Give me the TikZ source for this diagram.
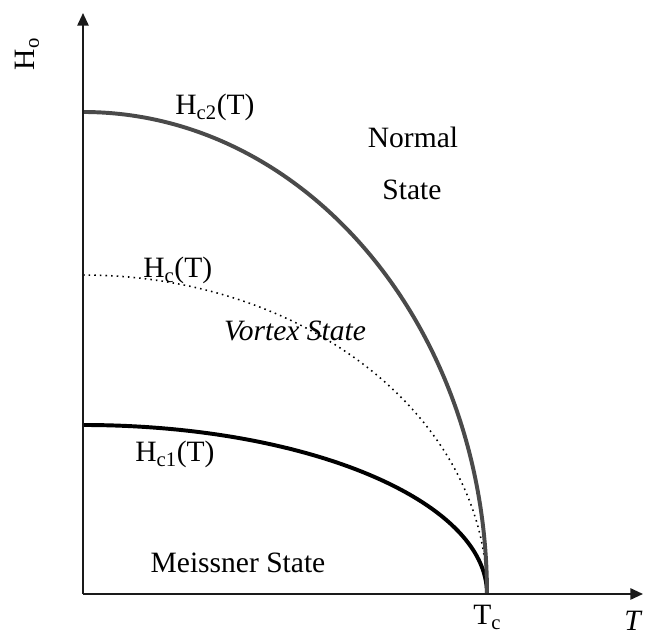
\documentclass[tikz,border=0pt]{standalone}
\usepackage{fontspec}
\setmainfont{Liberation Serif}
\usepackage{tikz}
\usetikzlibrary{arrows.meta,positioning}
\definecolor{hcTwoCol}{HTML}{4A4A4A}
\definecolor{axisCol}{HTML}{1A1A1A}
\tikzset{
  axis/.style={-{Triangle[length=9pt,width=8pt]}, line width=1.4pt, axisCol},
  hctwo/.style={line width=2.8pt, hcTwoCol},            % upper critical field
  hcone/.style={line width=2.8pt, black},               % lower critical field
  hcthermo/.style={line width=1.1pt, dash pattern=on 1.1pt off 2.9pt}, % thermodynamic field
  lbl/.style={font=\fontsize{21}{25}\selectfont, inner sep=0pt},
}
\newcommand{\Tc}{487}
\begin{document}
\begin{tikzpicture}[x=0.025cm,y=0.025cm]
  \useasboundingbox (0,0) rectangle (647,637);
  \coordinate (O) at (83,43);
  \coordinate (yTip) at (83,624);
  \coordinate (xTip) at (643,43);
  \coordinate (tc) at (\Tc,43);
  \coordinate (h2) at (83,525);
  \coordinate (h) at (83,362);
  \coordinate (h1) at (83,212);

  \draw[hcthermo] (h) arc[start angle=90, end angle=0, x radius=404, y radius=319];
  \draw[hcone] (h1) arc[start angle=90, end angle=0, x radius=404, y radius=169];
  \draw[hctwo] (h2) arc[start angle=90, end angle=0, x radius=404, y radius=482];
  \draw[axis] (O) -- (yTip);
  \draw[axis] (O) -- (xTip);

  \node[lbl, anchor=base west] (lHctwo) at (175,522) {H\textsubscript{c2}(T)};
  \node[lbl, anchor=base west] (lHc) at (143,359) {H\textsubscript{c}(T)};
  \node[lbl, anchor=base west] (lHcone) at (135,175) {H\textsubscript{c1}(T)};
  \node[lbl, anchor=base] (lNormal) at (413,489) {Normal};
  \node[lbl, anchor=base] (lNstate) at (412,437) {State};
  \node[lbl, anchor=base] (lVortex) at (295,296) {\itshape Vortex State};
  \node[lbl, anchor=base] (lMeiss) at (238,64) {Meissner State};
  \node[lbl, anchor=base west] (lTc) at (473,12) {T\textsubscript{c}};
  \node[lbl, anchor=base west] (lT) at (624,6) {\itshape T};
  \node[lbl, rotate=90] (lH0) at (27,583) {H\textsubscript{o}};
\end{tikzpicture}
\end{document}
